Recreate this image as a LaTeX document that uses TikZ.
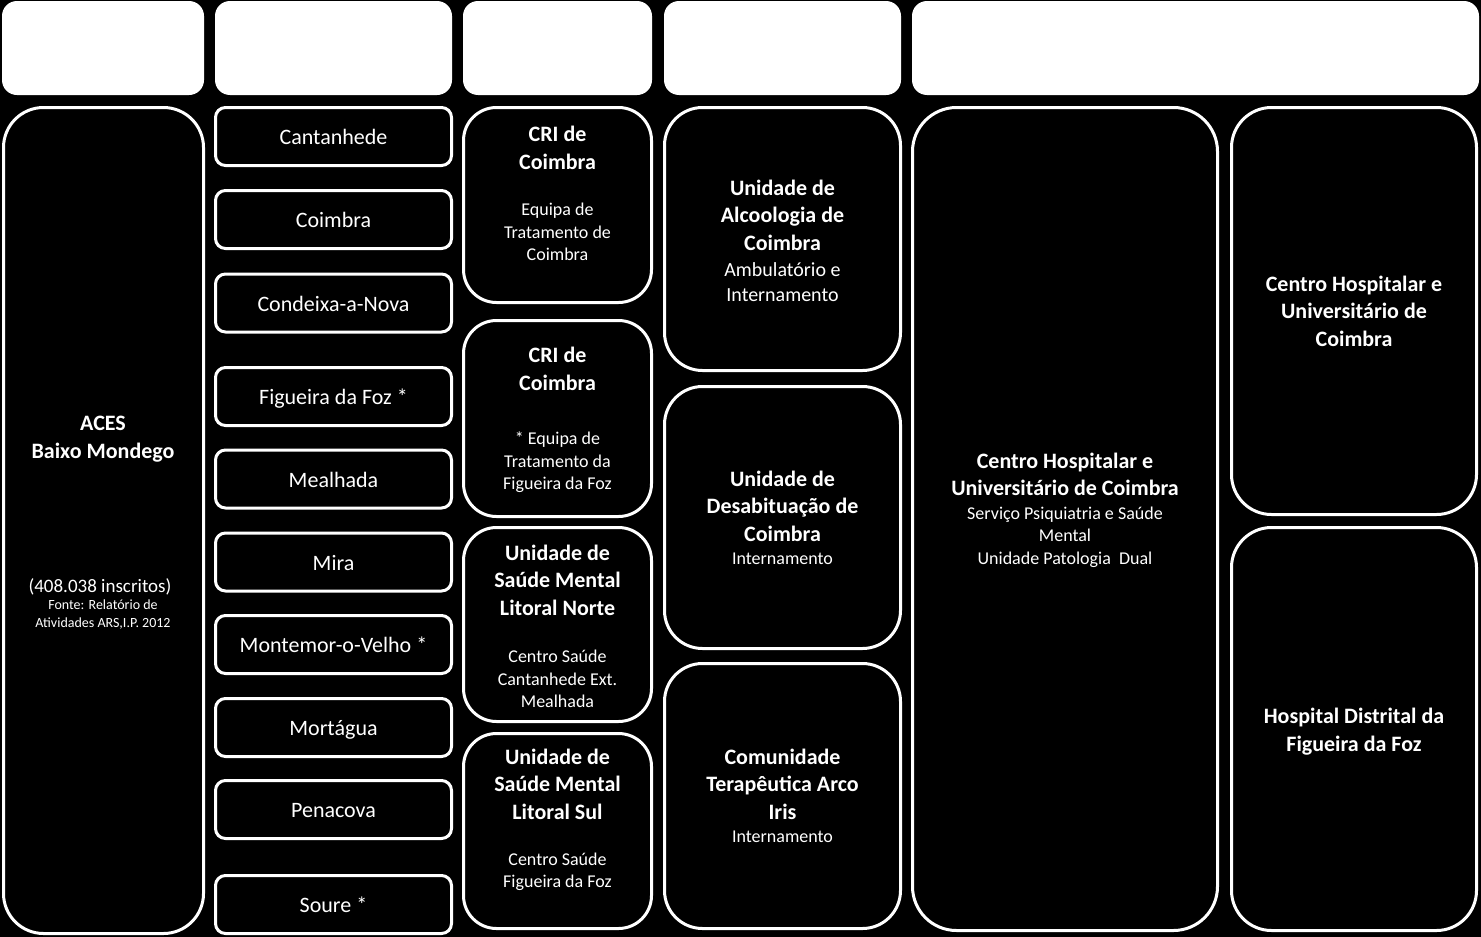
\documentclass[tikz,border=0pt]{standalone}
\usepackage{fontspec}
\setmainfont{Carlito}
\begin{document}
\begin{tikzpicture}[x=1pt,y=-1pt,
  hdr/.style={fill=white,rounded corners=15pt,inner sep=0pt,minimum height=94pt},
  box/.style={draw=white,line width=3pt,fill=black,rounded corners=#1,inner sep=0pt},
  box/.default=38pt,
  mun/.style={box=10pt,minimum width=236pt,minimum height=58pt,text=white,
    font=\fontsize{22}{26}\selectfont,text height=18pt,text depth=2pt},
  ttl/.style={text=white,align=center,font=\bfseries\fontsize{22}{27.5}\selectfont},
  sub/.style={text=white,align=center,font=\fontsize{18}{22.5}\selectfont}]
\fill[black] (0,0) rectangle (1481,937);
\node[hdr,minimum width=202pt] (h1) at (103,48) {};
\node[hdr,minimum width=237pt] (h2) at (333.5,48) {};
\node[hdr,minimum width=189pt] (h3) at (557.5,48) {};
\node[hdr,minimum width=237pt] (h4) at (782.5,48) {};
\node[hdr,minimum width=567pt] (h5) at (1195.5,48) {};
\node[box=40pt,minimum width=200pt,minimum height=826pt] (aces) at (103.5,520.5) {};
\node[ttl] (acest) at (103,439) {ACES\\Baixo Mondego};
\node[text=white,font=\fontsize{19}{23}\selectfont] (acesn) at (100,587) {(408.038 inscritos)};
\node[sub,font=\fontsize{14}{18}\selectfont] (acess) at (103,615)
  {Fonte: Relatório de\\Atividades ARS,I.P. 2012};
\node[mun] (cant) at (333.5,136.5) {Cantanhede};
\node[mun] (coim) at (333.5,219.5) {Coimbra};
\node[mun] (cond) at (333.5,303) {Condeixa-a-Nova};
\node[mun] (figf) at (333.5,396.5) {Figueira da Foz *};
\node[mun] (meal) at (333.5,479) {Mealhada};
\node[mun] (mira) at (333.5,562) {Mira};
\node[mun] (mont) at (333.5,644.5) {Montemor-o-Velho *};
\node[mun] (mort) at (333.5,727.5) {Mortágua};
\node[mun] (pena) at (333.5,809.5) {Penacova};
\node[mun] (sour) at (333.5,904.5) {Soure *};
\node[box=33pt,minimum width=188pt,minimum height=195pt] (cri1) at (557.5,205) {};
\node[ttl] (cri1t) at (557.5,148) {CRI de\\Coimbra};
\node[sub] (cri1s) at (557.5,232) {Equipa de\\Tratamento de\\Coimbra};
\node[box=33pt,minimum width=188pt,minimum height=196pt] (cri2) at (557.5,418.5) {};
\node[ttl] (cri2t) at (557.5,369) {CRI de\\Coimbra};
\node[sub] (cri2s) at (557.5,462.5) {* Equipa de\\Tratamento da\\Figueira da Foz};
\node[box=33pt,minimum width=188pt,minimum height=194pt] (usmn) at (557.5,624.5) {};
\node[ttl] (usmnt) at (557.5,580) {Unidade de\\Saúde Mental\\Litoral Norte};
\node[sub] (usmns) at (557.5,679) {Centro Saúde\\Cantanhede Ext.\\Mealhada};
\node[box=33pt,minimum width=188pt,minimum height=195pt] (usms) at (557.5,831) {};
\node[ttl] (usmst) at (557.5,784) {Unidade de\\Saúde Mental\\Litoral Sul};
\node[sub] (usmss) at (557.5,872) {Centro Saúde\\Figueira da Foz};
\node[box,minimum width=236pt,minimum height=263pt] (ualc) at (782.5,239) {};
\node[ttl] (ualct) at (782.5,215) {Unidade de\\Alcoologia de\\Coimbra};
\node[sub,font=\fontsize{20}{25}\selectfont] (ualcs) at (782.5,282) {Ambulatório e\\Internamento};
\node[box,minimum width=236pt,minimum height=262pt] (udes) at (782.5,517.5) {};
\node[ttl] (udest) at (782.5,506) {Unidade de\\Desabituação de\\Coimbra};
\node[sub] (udess) at (782.5,559) {Internamento};
\node[box,minimum width=236pt,minimum height=265pt] (cter) at (782.5,796) {};
\node[ttl] (ctert) at (782.5,784) {Comunidade\\Terapêutica Arco\\Iris};
\node[sub] (cters) at (782.5,837) {Internamento};
\node[box=44pt,minimum width=305pt,minimum height=823pt] (chuc) at (1065,519) {};
\node[ttl] (chuct) at (1065,474.5) {Centro Hospitalar e\\Universitário de Coimbra};
\node[sub] (chucs) at (1065,537) {Serviço Psiquiatria e Saúde\\Mental\\Unidade Patologia~ Dual};
\node[box=40pt,minimum width=245pt,minimum height=407pt] (chur) at (1354,311) {};
\node[ttl] (churt) at (1354,311) {Centro Hospitalar e\\Universitário de\\Coimbra};
\node[box=40pt,minimum width=245pt,minimum height=403pt] (hdff) at (1354,729) {};
\node[ttl] (hdfft) at (1354,731.5) {Hospital Distrital da\\Figueira da Foz};
\end{tikzpicture}
\end{document}
